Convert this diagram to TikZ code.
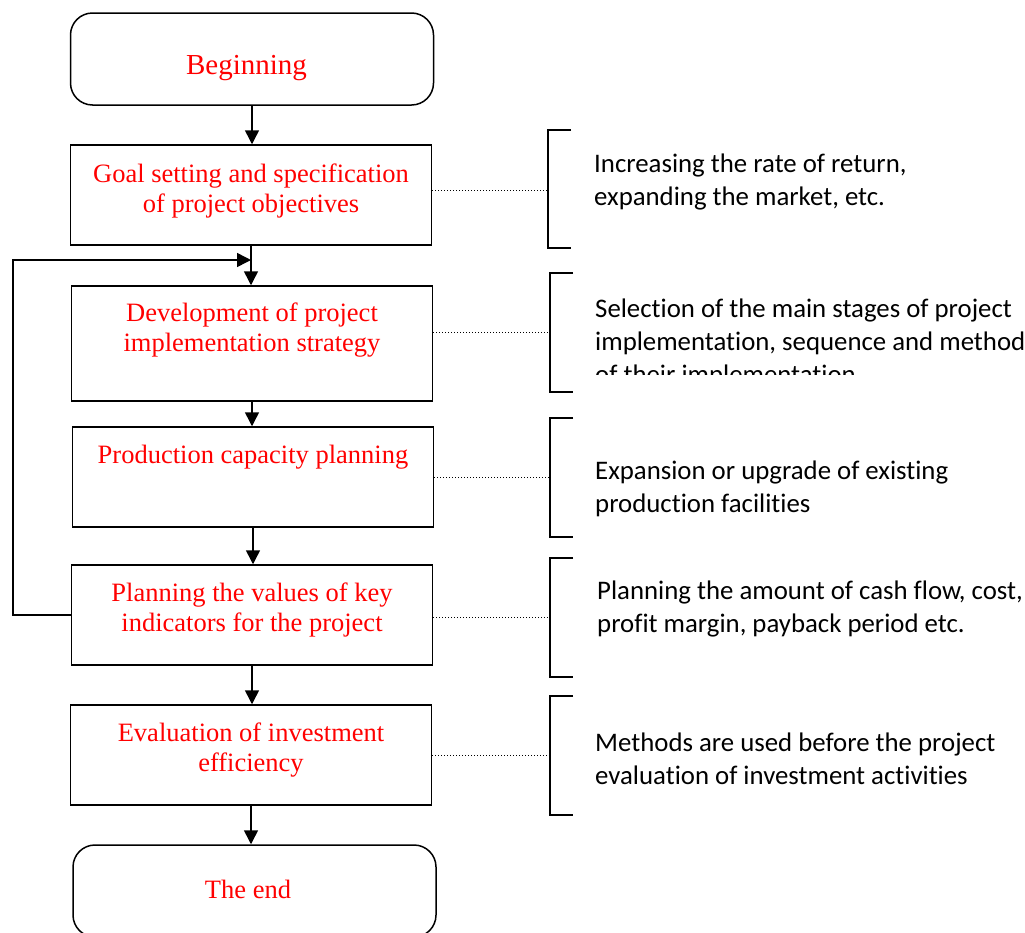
\documentclass[tikz,border=0pt]{standalone}
\usepackage{fontspec}
\setmainfont{Liberation Serif}
\newfontfamily\notefont[Ligatures=NoCommon]{Carlito}
\usetikzlibrary{arrows.meta}

\begin{document}
\begin{tikzpicture}[x=1pt,y=-1pt,
  stage/.style={draw,line width=1.5pt,minimum width=361pt,minimum height=100pt,inner sep=0pt},
  startstop/.style={stage,rounded corners=22pt,minimum width=363pt,minimum height=92pt},
  stagetext/.style={text=red,font=\fontsize{26.5}{30}\selectfont,align=center,inner sep=0pt,anchor=north},
  note/.style={font=\notefont\fontsize{26.8}{33}\selectfont,align=left,inner sep=0pt,anchor=north west},
  flow/.style={line width=1.5pt,-{Triangle[length=14pt,width=14pt]}},
  link/.style={dotted,line width=1pt},
  bracket/.style={line width=1.5pt}]
\useasboundingbox (0,0) rectangle (1025,932);
\clip (0,0) rectangle (1025,932);

\node[startstop] (begin) at (252,59) {};
\node[stagetext,anchor=base,font=\fontsize{29}{33}\selectfont] (begin-t) at (246.5,74) {Beginning};
\node[stage] (goal) at (251,195) {};
\node[stagetext] (goal-t) at (251,163.5) {Goal setting and specification\\of project objectives};
\node[stage,minimum height=115pt] (dev) at (252,343.5) {};
\node[stagetext] (dev-t) at (252,303) {Development of project\\implementation strategy};
\node[stage] (prod) at (253,477) {};
\node[stagetext] (prod-t) at (253,445) {Production capacity planning};
\node[stage] (plan) at (252,615) {};
\node[stagetext] (plan-t) at (252,582.5) {Planning the values of key\\indicators for the project};
\node[stage] (eval) at (251,755) {};
\node[stagetext] (eval-t) at (251,722.5) {Evaluation of investment\\efficiency};
\node[startstop] (end) at (254.5,891) {};
\node[stagetext,anchor=base] (end-t) at (248,898) {The end};

\draw[flow] (begin.south) -- (goal.north -| begin.south);
\draw[flow] (goal.south) -- (dev.north -| goal.south);
\draw[flow] (dev.south) -- (prod.north -| dev.south);
\draw[flow] (prod.south) -- (plan.north -| prod.south);
\draw[flow] (plan.south) -- (eval.north -| plan.south);
\draw[flow] (eval.south) -- (end.north -| eval.south);

\coordinate (loop) at (13,260);
\draw[flow] (plan.west) -- (plan.west -| loop) -- (loop) -- (loop -| goal.south);

\coordinate (b1) at (548,190);
\coordinate (b2) at (550,332);
\coordinate (b3) at (550,477);
\coordinate (b4) at (550,617);
\coordinate (b5) at (550,755);
\draw[link] (goal.east |- b1) -- (b1);
\draw[link] (dev.east |- b2) -- (b2);
\draw[link] (prod.east |- b3) -- (b3);
\draw[link] (plan.east |- b4) -- (b4);
\draw[link] (eval.east |- b5) -- (b5);

\draw[bracket] (571,130) -- (548,130) -- (548,248) -- (571,248);
\draw[bracket] (573,273) -- (550,273) -- (550,392) -- (573,392);
\draw[bracket] (573,418) -- (550,418) -- (550,537) -- (573,537);
\draw[bracket] (573,558) -- (550,558) -- (550,677) -- (573,677);
\draw[bracket] (573,696) -- (550,696) -- (550,815) -- (573,815);

\node[note] (n1) at (594,154) {Increasing the rate of return,\\expanding the market, etc.};
\begin{scope}
\clip (590,280) rectangle (1025,374);
\node[note] (n2) at (595,299) {Selection of the main stages of project\\implementation, sequence and method\\of their implementation};
\end{scope}
\node[note] (n3) at (595,461) {Expansion or upgrade of existing\\production facilities};
\node[note] (n4) at (597,581) {Planning the amount of cash flow, cost,\\profit margin, payback period etc.};
\node[note] (n5) at (595,733) {Methods are used before the project\\evaluation of investment activities};
\end{tikzpicture}
\end{document}
